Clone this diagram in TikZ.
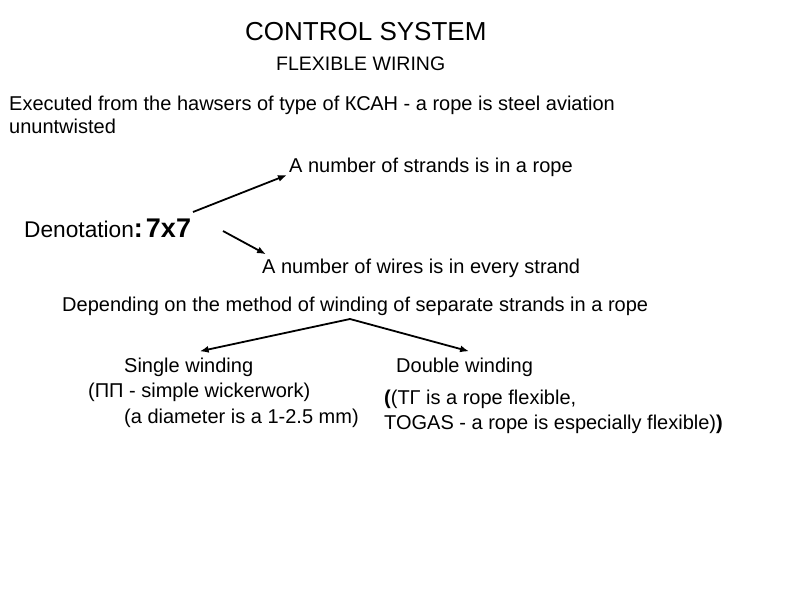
\documentclass[tikz,border=0pt]{standalone}
\usepackage{fontspec}
\setmainfont{Liberation Sans}
\usepackage{tikz}
\usetikzlibrary{arrows.meta, positioning}

\tikzset{
  txt/.style={anchor=base west, inner sep=0pt, font=\fontsize{20}{24}\selectfont},
  arr/.style={line width=1.8pt, -{Latex[length=9pt,width=7pt]}}
}

\begin{document}
\begin{tikzpicture}[x=1pt,y=-1pt]
            \useasboundingbox (0,0) rectangle (800,600);
            \node[txt,font=\fontsize{26}{30}\selectfont](title) at (245,40) {CONTROL SYSTEM};
            \node[txt,font=\fontsize{19.5}{23}\selectfont](sub) at (276,70) {FLEXIBLE WIRING};
            \node[txt](exec) at (9,110) {Executed from the hawsers of type of КСАН - a rope is steel aviation};
            \node[txt](exec2) at (9,133) {ununtwisted};
            \node[txt](strands) at (289,172) {A number of strands is in a rope};
            \node[txt,font=\fontsize{22.7}{26}\selectfont](deno) at (24,237) {Denotation\fontsize{27}{30}\selectfont\bfseries:\hspace{3pt}7x7};
            \node[txt](wires) at (262,273) {A number of wires is in every strand};
            \node[txt](dep) at (62,311) {Depending on the method of winding of separate strands in a rope};
            \node[txt](single) at (124,372) {Single winding};
            \node[txt](double) at (396,372) {Double winding};
            \node[txt](pp) at (88,397) {(ПП - simple wickerwork)};
            \node[txt](diam) at (124,423) {(a diameter is a 1-2.5 mm)};
            \node[txt](tg) at (384,404) {\textbf{(}(ТГ is a rope flexible,};
            \node[txt](togas) at (384,429) {TOGAS - a rope is especially flexible)\textbf{)}};
            \coordinate (s1) at (193,212);
            \coordinate (s2) at (223,231);
            \coordinate (fork) at (350,319);
            \draw[arr] (s1) -- ([shift={(-2pt,-3pt)}]strands.base west);
            \draw[arr] (s2) -- ([shift={(4pt,4pt)}]wires.north west);
            \draw[arr] (fork) -- ([shift={(11pt,6pt)}]single.north);
            \draw[arr] (fork) -- ([shift={(4.5pt,6pt)}]double.north);
        \end{tikzpicture}
\end{document}
